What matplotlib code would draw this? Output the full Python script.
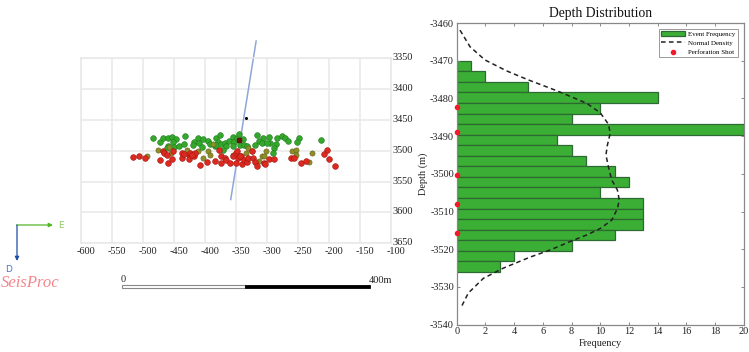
import matplotlib
matplotlib.use('Agg')
import matplotlib.pyplot as plt
from matplotlib.patches import Rectangle
from matplotlib.transforms import ScaledTranslation

plt.rcParams['font.family'] = ['Liberation Serif', 'DejaVu Serif']
plt.rcParams['axes.unicode_minus'] = False

# event locations, map view (x) against depth
green_x = [-484, -473, -468, -460, -453, -447, -452, -460, -461, -451, -443, -434, -432, -419, -420,
           -411, -410, -403, -396, -405, -392, -385, -383, -376, -380, -382, -374, -368, -362, -355,
           -354, -349, -345, -340, -344, -338, -333, -356, -366, -372, -316, -307, -313, -309, -298,
           -296, -285, -286, -289, -291, -320, -301, -276, -271, -267, -249, -252, -213]
green_y = [3480, 3486, 3479, 3479, 3477, 3481, 3485, 3492, 3496, 3494, 3492, 3489, 3476, 3485, 3490,
           3480, 3487, 3481, 3484, 3494, 3489, 3493, 3480, 3475, 3485, 3491, 3489, 3487, 3484, 3478,
           3485, 3480, 3472, 3481, 3491, 3491, 3493, 3493, 3493, 3499, 3474, 3480, 3484, 3488, 3478,
           3488, 3480, 3489, 3496, 3504, 3491, 3488, 3476, 3480, 3484, 3480, 3486, 3482]
olive_x = [-477, -494, -459, -456, -430, -412, -395, -392, -403, -334, -331, -324, -302, -309, -305,
           -313, -356, -260, -253, -253, -228, -233, -387]
olive_y = [3499, 3508, 3494, 3503, 3498, 3501, 3501, 3506, 3512, 3504, 3496, 3500, 3501, 3509, 3509,
           3516, 3507, 3500, 3499, 3507, 3503, 3518, 3489]
red_x = [-516, -507, -498, -473, -469, -467, -462, -460, -454, -452, -437, -437, -427, -426, -425,
         -418, -416, -409, -397, -384, -378, -375, -374, -368, -366, -360, -351, -355, -351, -347,
         -343, -341, -338, -333, -331, -325, -323, -320, -317, -306, -303, -297, -290, -262, -257,
         -246, -238, -204, -209, -201, -191, -349, -344, -435, -422]
red_y = [3510, 3509, 3512, 3515, 3501, 3504, 3507, 3520, 3513, 3500, 3504, 3512, 3507, 3514, 3503,
         3508, 3503, 3523, 3518, 3516, 3498, 3508, 3519, 3511, 3515, 3520, 3519, 3508, 3504, 3512,
         3509, 3522, 3515, 3518, 3511, 3501, 3512, 3518, 3525, 3519, 3522, 3514, 3513, 3512, 3512,
         3519, 3516, 3498, 3505, 3513, 3524, 3500, 3508, 3505, 3507]
well_x = [-318, -359]
well_y = [3322, 3579]
map_xticks = [-600, -550, -500, -450, -400, -350, -300, -250, -200, -150, -100]
map_yticks = [3350, 3400, 3450, 3500, 3550, 3600, 3650]

# depth histogram
bin_depth = [-3471.4, -3474.2, -3477.0, -3479.8, -3482.6, -3485.4, -3488.2, -3491.0, -3493.8, -3496.6,
             -3499.4, -3502.2, -3505.0, -3507.8, -3510.6, -3513.4, -3516.2, -3519.0, -3521.8, -3524.6]
bin_count = [1, 2, 5, 14, 10, 8, 20, 7, 8, 9, 11, 12, 10, 13, 13, 13, 11, 8, 4, 3]
bin_height = 2.8
norm_freq = [0.23, 0.93, 1.97, 3.48, 5.0, 7.0, 9.06, 10.0, 10.57, 10.7, 10.5, 10.4, 10.57, 10.8, 11.2,
             11.33, 11.2, 10.8, 10.0, 9.06, 8.0, 6.5, 5.1, 3.25, 1.86, 0.81, 0.28]
norm_depth = [-3461.9, -3466.3, -3469.8, -3472.7, -3475.1, -3478.0, -3481.3, -3483.8, -3486.8, -3489.2,
              -3492.4, -3495.0, -3498.1, -3501.6, -3504.3, -3507.0, -3509.2, -3512.3, -3514.5, -3516.2,
              -3517.8, -3520.2, -3522.1, -3525.0, -3527.7, -3531.6, -3535.6]
perf_depth = [-3482.3, -3488.9, -3500.3, -3508.1, -3515.8]
perf_freq = [0, 0, 0, 0, 0]

W, H = 749, 352
fig = plt.figure(figsize=(W / 100, H / 100), dpi=100)


def px_axes(x0, y0, x1, y1):
    return fig.add_axes([x0 / W, 1 - y1 / H, (x1 - x0) / W, (y1 - y0) / H])


# left panel
ax1 = px_axes(81.3, 58.3, 391.3, 243.3)
ax1.set_xlim(-600, -100)
ax1.set_ylim(3650, 3350)
ax1.set_xticks(map_xticks)
ax1.set_yticks(map_yticks)
ax1.yaxis.tick_right()
ax1.grid(True, color='#e8e8e8', lw=1.1)
ax1.set_axisbelow(True)
ax1.tick_params(length=0, labelsize=7.4, pad=1, labelcolor='#222222')
ax1.tick_params(axis='x', pad=3)
for s in ax1.spines.values():
    s.set_color('#e8e8e8')
    s.set_linewidth(1.1)
shift = ScaledTranslation(5 / 100, 0, fig.dpi_scale_trans)
for lab in ax1.get_xticklabels():
    lab.set_transform(lab.get_transform() + shift)
lift = ScaledTranslation(0, 1.5 / 100, fig.dpi_scale_trans)
for lab in ax1.get_yticklabels():
    lab.set_transform(lab.get_transform() + lift)

ax1.plot(well_x, well_y, color='#8ea6d8', lw=1.1, clip_on=False, zorder=2)
ax1.scatter(green_x, green_y, s=17, color='#35a82c', edgecolors='#1d7a1d', linewidths=0.4, zorder=3)
ax1.scatter(olive_x, olive_y, s=14, color='#8f8f2a', edgecolors='#5f5f15', linewidths=0.4, zorder=4)
ax1.scatter(red_x, red_y, s=17, color='#dc2a20', edgecolors='#a01510', linewidths=0.4, zorder=5)
ax1.scatter([-346], [3482], s=12, marker='s', color='#6a1010', zorder=6)
ax1.scatter([-335], [3446], s=1.5, color='black', zorder=6)

# overlay in pixel coords for the compass, logo and scale bar
over = fig.add_axes([0, 0, 1, 1])
over.set_xlim(0, W)
over.set_ylim(H, 0)
over.axis('off')
over.patch.set_alpha(0)
over.annotate('', xy=(53, 225), xytext=(16.5, 225),
              arrowprops=dict(arrowstyle='-|>', color='#55b52a', lw=0.9, mutation_scale=6, shrinkA=0, shrinkB=0))
over.annotate('', xy=(17, 261), xytext=(17, 225),
              arrowprops=dict(arrowstyle='-|>', color='#1f4fa8', lw=0.9, mutation_scale=6, shrinkA=0, shrinkB=0))
over.text(61, 226, 'E', color='#8ccc60', fontsize=6.5, family='DejaVu Sans', ha='center', va='center')
over.text(9, 269, 'D', color='#4a74c4', fontsize=6.5, family='DejaVu Sans', ha='center', va='center')
over.text(30, 283, 'SeisProc', color='#f4868c', fontsize=12, style='italic', ha='center', va='center')
over.add_patch(Rectangle((122, 284.5), 123, 3, fc='white', ec='#888888', lw=0.8))
over.add_patch(Rectangle((245, 284.5), 125, 3, fc='black', ec='black', lw=0.6))
over.text(123.5, 280, '0', fontsize=7.4, ha='center', va='center', color='#222222')
over.text(369, 280.5, '400m', fontsize=7.4, ha='left', va='center', color='#222222')

# right panel
ax2 = px_axes(456.7, 23, 743.7, 324.7)
bars = ax2.barh(bin_depth, bin_count, height=bin_height, color='#3bae35', edgecolor='#2c6a32', lw=0.9,
                label='Event Frequency')
line, = ax2.plot(norm_freq, norm_depth, color='#222222', ls=(0, (3, 2.2)), lw=1.1, label='Normal Density')
perf = ax2.scatter(perf_freq, perf_depth, s=9, color='#f01c2c', clip_on=False, zorder=5, label='Perforation Shot')
ax2.set_xlim(0, 20)
ax2.set_ylim(-3540, -3460)
ax2.set_xticks(range(0, 21, 2))
ax2.set_yticks(range(-3540, -3459, 10))
ax2.tick_params(direction='in', length=2.5, width=0.6, color='#777777', labelsize=7.4, pad=2,
                top=True, right=True, labelcolor='#222222')
for s in ax2.spines.values():
    s.set_color('#888888')
    s.set_linewidth(0.9)
ax2.set_title('Depth Distribution', fontsize=9.8, pad=4, color='#111111')
ax2.set_xlabel('Frequency', fontsize=7.4, labelpad=1.5, color='#222222')
ax2.set_ylabel('Depth (m)', fontsize=7.4, labelpad=1.5, color='#222222')
leg = ax2.legend(handles=[bars, line, perf], loc='upper right', bbox_to_anchor=(737.5 / W, 1 - 28.5 / H),
                 bbox_transform=fig.transFigure, fontsize=5, frameon=True, fancybox=False, edgecolor='#999999',
                 framealpha=1, borderpad=0.35, labelspacing=0.45, handlelength=3.4, handletextpad=0.4,
                 borderaxespad=0)
leg.get_frame().set_linewidth(0.7)

fig.savefig('out.png', dpi=100)
